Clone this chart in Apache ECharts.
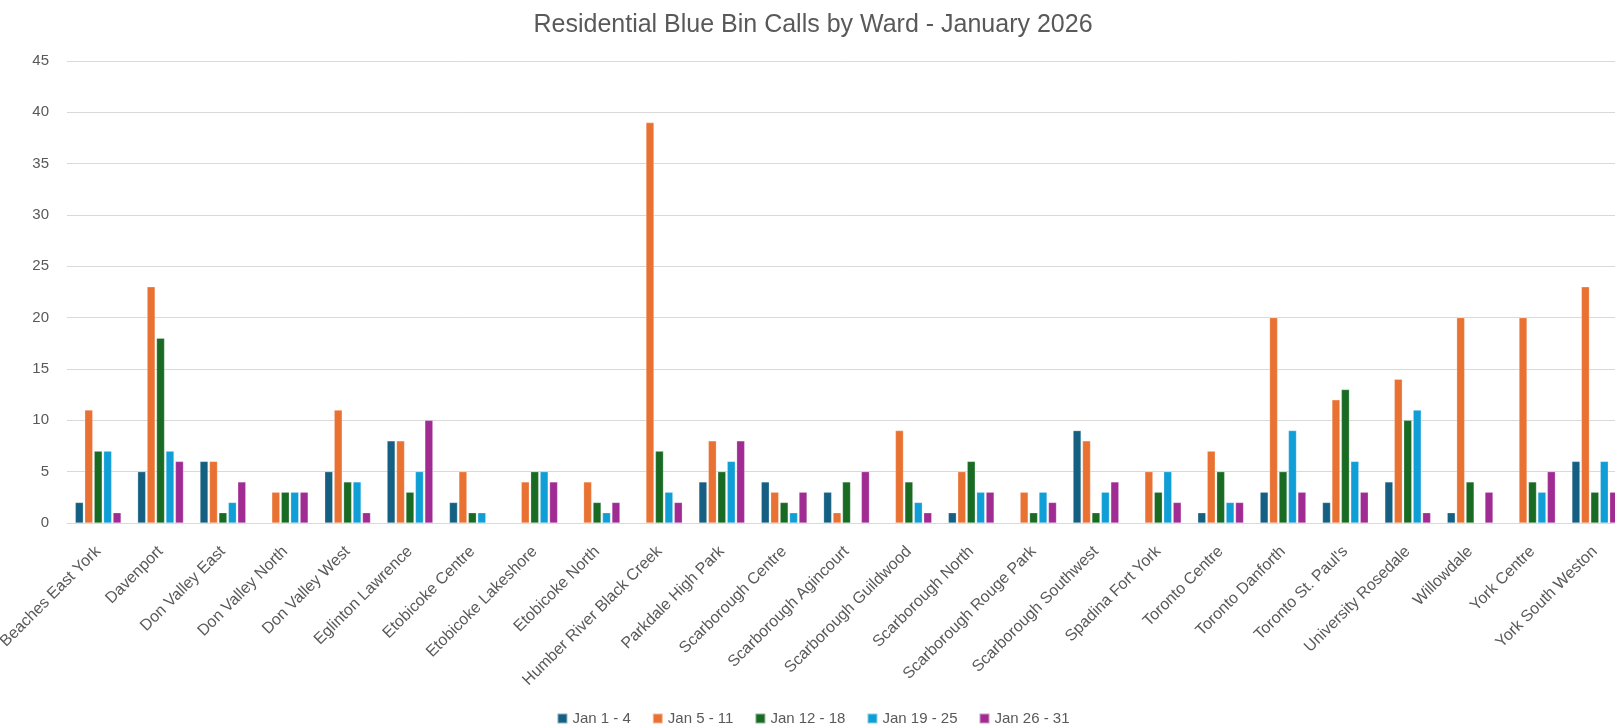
<!DOCTYPE html>
<html>
<head>
<meta charset="utf-8">
<script src="https://cdn.jsdelivr.net/npm/echarts@6/dist/echarts.min.js"></script>
<style>
html,body{margin:0;padding:0;background:#fff;overflow:hidden;}
#chart{width:1626px;height:728px;}
</style>
</head>
<body>
<div id="chart"></div>
<script>
const wards = ["Beaches East York","Davenport","Don Valley East","Don Valley North","Don Valley West","Eglinton Lawrence","Etobicoke Centre","Etobicoke Lakeshore","Etobicoke North","Humber River Black Creek","Parkdale High Park","Scarborough Centre","Scarborough Agincourt","Scarborough Guildwood","Scarborough North","Scarborough Rouge Park","Scarborough Southwest","Spadina Fort York","Toronto Centre","Toronto Danforth","Toronto St. Paul's","University Rosedale","Willowdale","York Centre","York South Weston"];
const seriesNames = ["Jan 1 - 4","Jan 5 - 11","Jan 12 - 18","Jan 19 - 25","Jan 26 - 31"];
const jan1_4   = [2,5,6,null,5,8,2,null,null,null,4,4,3,null,1,null,9,null,1,3,2,4,1,null,6];
const jan5_11  = [11,23,6,3,11,8,5,4,4,39,8,3,1,9,5,3,8,5,7,20,12,14,20,20,23];
const jan12_18 = [7,18,1,3,4,3,1,5,2,7,5,2,4,4,6,1,1,3,5,5,13,10,4,4,3];
const jan19_25 = [7,7,2,3,4,5,1,5,1,3,6,1,null,2,3,3,3,5,2,9,6,11,null,3,6];
const jan26_31 = [1,6,4,3,1,10,null,4,2,2,8,3,5,1,3,2,4,2,2,3,3,1,3,5,3];
const yTicks = [0,5,10,15,20,25,30,35,40,45];
const colors = ["#156082","#E97132","#196B24","#0F9ED5","#A02B93"];
const allData = [jan1_4, jan5_11, jan12_18, jan19_25, jan26_31];

const FONT = "Liberation Sans, Arial, sans-serif";
const chart = echarts.init(document.getElementById('chart'), null, {renderer:'canvas'});
chart.setOption({
  animation:false,
  backgroundColor:'#ffffff',
  color: colors,
  title:{
    text:'Residential Blue Bin Calls by Ward - January 2026',
    left:'center', top:8,
    textStyle:{color:'#595959', fontSize:25, fontWeight:'normal', fontFamily:FONT}
  },
  legend:{
    bottom:2, left:'center', padding:0,
    itemWidth:10, itemHeight:10, itemGap:21,
    icon:'rect',
    textStyle:{color:'#595959', fontSize:15, fontFamily:FONT},
    data: seriesNames
  },
  grid:{left:67, right:0, top:61, bottom:205, containLabel:false, outerBoundsMode:'none'},
  xAxis:{
    type:'category',
    data: wards,
    axisLine:{lineStyle:{color:'#d9d9d9', width:1}},
    axisTick:{show:false},
    axisLabel:{interval:0, rotate:45, color:'#595959', fontSize:16, fontFamily:FONT, margin:26}
  },
  yAxis:{
    type:'value', min:yTicks[0], max:yTicks[yTicks.length-1], interval:yTicks[1]-yTicks[0],
    axisLine:{show:false}, axisTick:{show:false},
    splitLine:{lineStyle:{color:'#d9d9d9', width:1}},
    axisLabel:{color:'#595959', fontSize:15, fontFamily:FONT, margin:18}
  },
  series: seriesNames.map((n,i)=>({
    name:n, type:'bar', data: allData[i],
    barWidth:8, barGap:'18%',
    itemStyle:{color:colors[i], borderColor:'rgba(255,255,255,0.5)', borderWidth:0.5}
  }))
});
</script>
</body>
</html>
